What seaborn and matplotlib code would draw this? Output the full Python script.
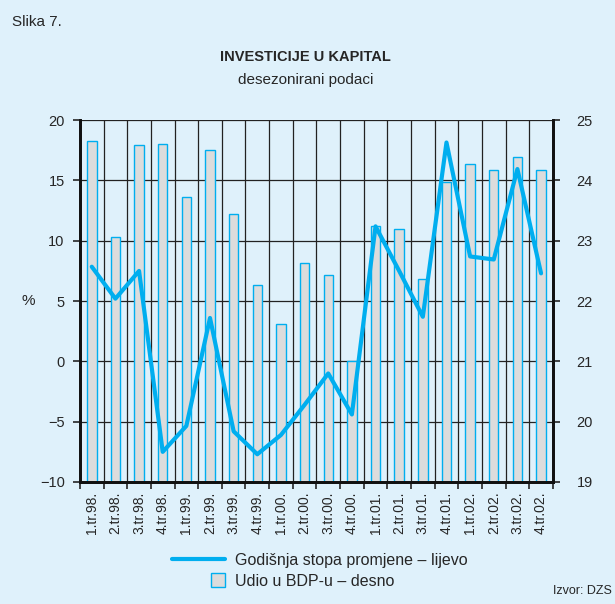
import numpy as np
import pandas as pd
import matplotlib
matplotlib.use("Agg")
import matplotlib.pyplot as plt
import seaborn as sns
from matplotlib.lines import Line2D
from matplotlib.patches import Patch, Rectangle
from matplotlib.legend_handler import HandlerPatch

# podaci
kvartali = ["1.tr.98.", "2.tr.98.", "3.tr.98.", "4.tr.98.",
            "1.tr.99.", "2.tr.99.", "3.tr.99.", "4.tr.99.",
            "1.tr.00.", "2.tr.00.", "3.tr.00.", "4.tr.00.",
            "1.tr.01.", "2.tr.01.", "3.tr.01.", "4.tr.01.",
            "1.tr.02.", "2.tr.02.", "3.tr.02.", "4.tr.02."]
udio_bdp = [24.65, 23.06, 24.59, 24.60, 23.72, 24.50, 23.44, 22.27,
            21.62, 22.63, 22.43, 21.00, 23.24, 23.19, 22.37, 23.98,
            24.27, 24.18, 24.39, 24.18]
stopa = [7.85, 5.2, 7.5, -7.5, -5.35, 3.6, -5.8, -7.7,
         -6.1, -3.6, -1.0, -4.4, 11.2, 7.5, 3.7, 18.15,
         8.7, 8.45, 15.95, 7.3]

df = pd.DataFrame({"kvartal": kvartali, "udio": udio_bdp, "stopa": stopa})
df["x"] = np.arange(len(df))

bg = "#dff1fb"
plava = "#00aeef"
siva = "#dcdcdc"

sns.set_style("ticks")
plt.rcParams["font.family"] = ["Liberation Sans Narrow", "Liberation Sans", "DejaVu Sans"]

fig = plt.figure(figsize=(6.15, 6.04), dpi=100, facecolor=bg)
ax_bar = fig.add_axes([0.130, 0.202, 0.769, 0.599])
ax_bar.set_facecolor(bg)

# stupci - desna os
sns.barplot(data=df, x="kvartal", y="udio", ax=ax_bar, color=siva,
            width=0.4, edgecolor=plava, linewidth=1.0, saturation=1)
ax_bar.set_ylim(19, 25)
ax_bar.set_xlim(-0.5, len(df) - 0.5)
ax_bar.set_yticks(np.arange(19, 26, 1))
ax_bar.set_xlabel("")
ax_bar.set_ylabel("")
ax_bar.set_xticks(np.arange(-0.5, len(df), 1), minor=True)
ax_bar.set_axisbelow(True)
ax_bar.grid(axis="y", which="major", color="#222222", linewidth=0.9)
ax_bar.grid(axis="x", which="minor", color="#222222", linewidth=0.9)
ax_bar.tick_params(axis="x", which="major", length=0, rotation=90, labelsize=10, pad=7)
ax_bar.tick_params(axis="x", which="minor", length=5, width=1.2, direction="out")
for lab in ax_bar.get_xticklabels():
    lab.set_verticalalignment("top")

# linija - lijeva os
ax_line = ax_bar.twinx()
sns.lineplot(data=df, x="x", y="stopa", ax=ax_line, color=plava, linewidth=3)
ax_line.yaxis.tick_left()
ax_line.yaxis.set_label_position("left")
ax_line.set_ylim(-10, 20)
ax_line.set_yticks(np.arange(-10, 21, 5))
ax_line.set_xlim(-0.5, len(df) - 0.5)
ax_line.set_xlabel("")
ax_line.set_ylabel("%", rotation=0, fontsize=11, labelpad=8, va="center")
ax_line.tick_params(axis="y", length=5, width=1.2, labelsize=10.5, pad=6)
ax_line.grid(False)

# twinx vraca tickove lijevo, pa desnu os postavi nakon toga
ax_bar.yaxis.tick_right()
ax_bar.tick_params(axis="y", length=5, width=1.2, labelsize=10.5, pad=12)

for a in (ax_bar, ax_line):
    a.spines["top"].set_visible(False)
    for s in ("left", "right", "bottom"):
        a.spines[s].set_linewidth(2)
        a.spines[s].set_color("#111111")

# naslovi
fig.text(0.02, 0.963, "Slika 7.", fontsize=11, va="center", ha="left")
fig.text(0.497, 0.905, "INVESTICIJE U KAPITAL", fontsize=10.5, fontweight="bold",
         ha="center", va="center")
fig.text(0.497, 0.868, "desezonirani podaci", fontsize=11, ha="center", va="center")
fig.text(0.995, 0.012, "Izvor: DZS", fontsize=9, ha="right", va="bottom")

# legenda
def kvadrat(legend, orig_handle, xdescent, ydescent, width, height, fontsize):
    s = height * 1.25
    return Rectangle((width - s - xdescent, -ydescent - (s - height) / 2), s, s)

handles = [Line2D([], [], color=plava, linewidth=3),
           Patch(facecolor=siva, edgecolor=plava, linewidth=1.0)]
labels = ["Godišnja stopa promjene – lijevo", "Udio u BDP-u – desno"]
fig.legend(handles, labels, loc="upper left", bbox_to_anchor=(0.27, 0.095),
           frameon=False, fontsize=11.5, handlelength=3.3, handletextpad=0.6,
           labelspacing=0.35, borderaxespad=0,
           handler_map={Patch: HandlerPatch(patch_func=kvadrat)})

fig.savefig("out.png", dpi=100, facecolor=bg)
